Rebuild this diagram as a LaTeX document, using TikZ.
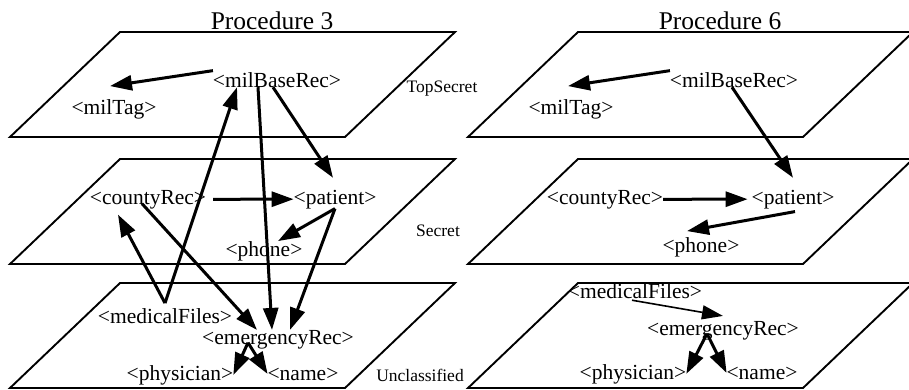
\documentclass[tikz,border=0pt]{standalone}
\usepackage{fontspec}
\setmainfont{Liberation Serif}
\usetikzlibrary{arrows.meta}
\begin{document}
\begin{tikzpicture}[x=1pt,y=-1pt,
    rec/.style={anchor=base, inner sep=0pt, outer sep=0pt, font=\fontsize{21.5}{24}\selectfont},
    layer/.style={anchor=base, inner sep=0pt, font=\fontsize{17.5}{20}\selectfont},
    title/.style={anchor=base, inner sep=0pt, font=\fontsize{25.5}{28}\selectfont},
    flow/.style={line width=3pt, -{Triangle[length=22pt,width=15pt]}},
    thinflow/.style={line width=1.6pt, -{Triangle[length=21pt,width=14pt]}}]
    \useasboundingbox (0,0) rectangle (909,389);
    \clip (0,0) rectangle (909,389);
    % the three security levels, twice
    \foreach \dx in {0,458}
      \foreach \dy in {0,127,251}
        \draw[line width=1.9pt] (10+\dx,137+\dy) -- (345+\dx,137+\dy) -- (455+\dx,32+\dy) -- (120+\dx,32+\dy) -- cycle;
    \node[title] (procA) at (272,29) {Procedure 3};
    \node[title] (procB) at (720,29) {Procedure 6};
    \node[layer] (topsec) at (442,92) {TopSecret};
    \node[layer] (sec) at (438,236) {Secret};
    \node[layer] (uncl) at (420,381) {Unclassified};
    % Procedure 3
    \node[rec] (mbrA) at (277,87) {<milBaseRec>};
    \node[rec] (tagA) at (114,114) {<milTag>};
    \node[rec] (cntA) at (148,204) {<countyRec>};
    \node[rec] (patA) at (335,204) {<patient>};
    \node[rec] (phnA) at (264,256) {<phone>};
    \node[rec] (medA) at (165,323) {<medicalFiles>};
    \node[rec] (emrA) at (278,344) {<emergencyRec>};
    \node[rec] (phyA) at (180,380) {<physician>};
    \node[rec] (nmA) at (303,380) {<name>};
    \draw[flow] ([yshift=9pt]mbrA.west) -- ([xshift=-4pt,yshift=13pt]tagA.north);
    \draw[flow] ([yshift=5pt]medA.north) -- ([xshift=-40pt]mbrA.south);
    \draw[flow] ([xshift=-19pt]mbrA.south) -- ([xshift=-6pt]emrA.north);
    \draw[flow] ([xshift=-4pt]mbrA.south) -- ([xshift=-2pt,yshift=12pt]patA.north);
    \draw[flow] ([xshift=7pt]cntA.east) -- (patA.west);
    \draw[flow] ([xshift=-6pt,yshift=5pt]cntA.south) -- ([xshift=-21pt]emrA.north);
    \draw[flow] (patA.south) -- ([xshift=14pt]phnA.north);
    \draw[flow] (patA.south) -- ([xshift=12pt]emrA.north);
    \draw[flow] ([yshift=5pt]medA.north) -- ([xshift=-30pt,yshift=-6pt]cntA.south);
    \draw[flow] ([xshift=-30pt,yshift=6pt]emrA.south) -- (phyA.east);
    \draw[flow] ([xshift=-30pt,yshift=6pt]emrA.south) -- (nmA.west);
    % Procedure 6
    \node[rec] (mbrB) at (734,87) {<milBaseRec>};
    \node[rec] (tagB) at (571,114) {<milTag>};
    \node[rec] (cntB) at (605,204) {<countyRec>};
    \node[rec] (patB) at (793,204) {<patient>};
    \node[rec] (phnB) at (701,252) {<phone>};
    \node[rec] (medB) at (635,298) {<medicalFiles>};
    \node[rec] (emrB) at (723,335) {<emergencyRec>};
    \node[rec] (phyB) at (633,379) {<physician>};
    \node[rec] (nmB) at (762,379) {<name>};
    \draw[flow] ([yshift=9pt]mbrB.west) -- ([xshift=-3pt,yshift=13pt]tagB.north);
    \draw[flow] ([xshift=-2pt]mbrB.south) -- ([yshift=12pt]patB.north);
    \draw[flow] (cntB.east) -- ([xshift=-4pt]patB.west);
    \draw[flow] ([xshift=2pt,yshift=-3pt]patB.south) -- ([xshift=-14pt,yshift=6pt]phnB.north);
    \draw[thinflow] ([xshift=-3pt,yshift=-2pt]medB.south) -- ([yshift=5pt]emrB.north);
    \draw[flow] ([xshift=-16pt,yshift=6pt]emrB.south) -- (phyB.east);
    \draw[flow] ([xshift=-16pt,yshift=6pt]emrB.south) -- (nmB.west);
\end{tikzpicture}
\end{document}
